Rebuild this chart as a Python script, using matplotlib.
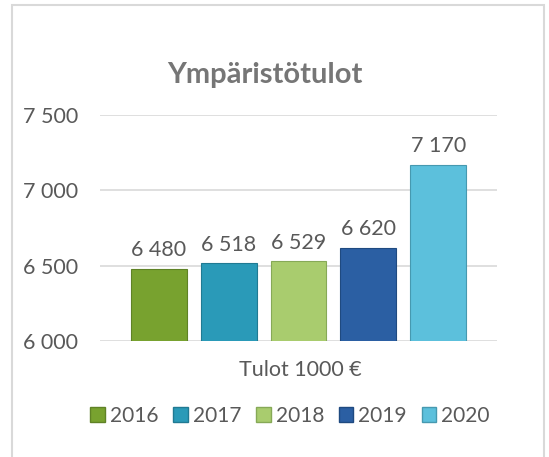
import matplotlib.pyplot as plt
from matplotlib.patches import Rectangle, Patch

years = ["2016", "2017", "2018", "2019", "2020"]
values = [6480, 6518, 6529, 6620, 7170]
colors = ["#78a22f", "#2a9ab8", "#a9cc6e", "#2b5fa3", "#5cc0dc"]
edge_colors = ["#5f8226", "#207a93", "#86a957", "#1f4a80", "#4699b0"]
y_ticks = [6000, 6500, 7000, 7500]

plt.rcParams["font.family"] = ["Lato", "DejaVu Sans"]
text_color = "#595959"
label_size = 15.5

fig = plt.figure(figsize=(5.49, 4.57), dpi=100)
fig.patches.append(Rectangle((12 / 549, -0.01), (544 - 12) / 549, 1 - 5 / 457 + 0.01,
                             transform=fig.transFigure, fill=False,
                             edgecolor="#d9d9d9", linewidth=1.5))

ax = fig.add_axes([100 / 549, 1 - 341 / 457, 397 / 549, (341 - 115) / 457])
positions = [i - 2 for i in range(len(years))]
ax.bar(positions, values, width=0.8, color=colors, edgecolor=edge_colors,
       linewidth=0.8, zorder=3)

for x, v in zip(positions, values):
    ax.text(x, v + 55, f"{v:,}".replace(",", " "), ha="center", va="bottom",
            fontsize=label_size, color=text_color)

ax.set_ylim(6000, 7500)
ax.set_xlim(-2.84, 2.84)
ax.set_yticks(y_ticks)
ax.set_yticklabels([f"{t:,}".replace(",", " ") for t in y_ticks], fontsize=label_size, color=text_color)
ax.tick_params(axis="y", length=0, pad=16)
ax.set_xticks([])
ax.grid(axis="y", color="#d9d9d9", linewidth=1.2, zorder=0)
for s in ax.spines.values():
    s.set_visible(False)

fig.text(265 / 549, 1 - 75 / 457, "Ympäristötulot", ha="center", va="center",
         fontsize=21, fontweight="bold", color="#767676")
fig.text(300 / 549, 1 - 370 / 457, "Tulot 1000 €", ha="center", va="center",
         fontsize=label_size, color=text_color)

handles = [Patch(facecolor=c, edgecolor=e) for c, e in zip(colors, edge_colors)]
fig.legend(handles, years, loc="center", bbox_to_anchor=(290 / 549, 1 - 416 / 457),
           ncol=5, frameon=False, fontsize=15, labelcolor=text_color,
           handlelength=0.7, handleheight=0.7, handletextpad=0.25, columnspacing=0.7)

fig.savefig("out.png", dpi=100)
